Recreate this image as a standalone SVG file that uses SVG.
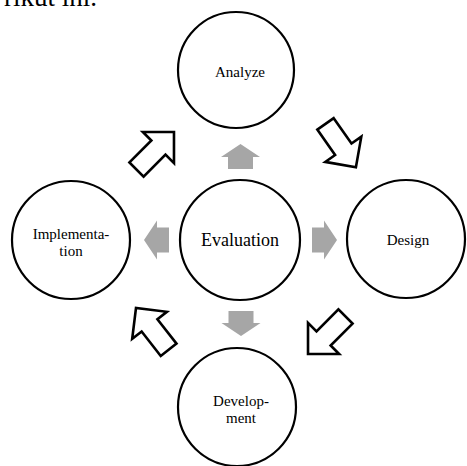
<svg xmlns="http://www.w3.org/2000/svg" width="467" height="466" viewBox="0 0 467 466">
  <style>
    .node { fill: #ffffff; stroke: #000000; stroke-width: 2.2; }
    .lbl { font-family: "Liberation Serif", "Times New Roman", serif; fill: #000000; text-anchor: middle; }
    .out { fill: #ffffff; stroke: #000000; stroke-width: 2.6; stroke-linejoin: miter; }
    .grey { fill: #a6a6a6; stroke: none; }
  </style>
  <defs>
    <polygon id="outArrow" points="-27,-10 4,-10 4,-22 26,0 4,22 4,10 -27,10"/>
    <polygon id="greyArrow" points="0,-12.5 12,-12.5 12,-19.5 25,0 12,19.5 12,12.5 0,12.5"/>
  </defs>
  <rect x="0" y="0" width="467" height="466" fill="#ffffff"/>
  <text x="97" y="6" style="font-family: 'Liberation Serif', 'Times New Roman', serif; font-size: 27px; text-anchor: end;">rikut ini.</text>

  <g id="connectors">
    <use href="#outArrow" class="out" transform="translate(155.6,150.4) rotate(-45)"/>
    <use href="#outArrow" class="out" transform="translate(341,146) rotate(55)"/>
    <use href="#outArrow" class="out" transform="translate(326.4,335.6) rotate(135)"/>
    <use href="#outArrow" class="out" transform="translate(152,328.5) rotate(-128)"/>
    <use href="#greyArrow" class="grey" transform="translate(240.5,169) rotate(-90)"/>
    <use href="#greyArrow" class="grey" transform="translate(312,240)"/>
    <use href="#greyArrow" class="grey" transform="translate(241,311) rotate(90)"/>
    <use href="#greyArrow" class="grey" transform="translate(169,240) rotate(180)"/>
  </g>

  <g id="analyze">
    <circle class="node" cx="236" cy="70" r="58"/>
    <text class="lbl" x="240" y="77" font-size="15">Analyze</text>
  </g>
  <g id="design">
    <circle class="node" cx="406" cy="239" r="59"/>
    <text class="lbl" x="408" y="245" font-size="15">Design</text>
  </g>
  <g id="development">
    <circle class="node" cx="237" cy="407" r="59"/>
    <text class="lbl" x="241" y="406" font-size="15">Develop-</text>
    <text class="lbl" x="241" y="423" font-size="15">ment</text>
  </g>
  <g id="implementation">
    <circle class="node" cx="71" cy="240" r="59"/>
    <text class="lbl" x="71" y="239" font-size="15">Implementa-</text>
    <text class="lbl" x="71" y="256" font-size="15">tion</text>
  </g>
  <g id="evaluation">
    <circle class="node" cx="240" cy="240" r="60"/>
    <text class="lbl" x="240" y="246" font-size="18">Evaluation</text>
  </g>
</svg>
